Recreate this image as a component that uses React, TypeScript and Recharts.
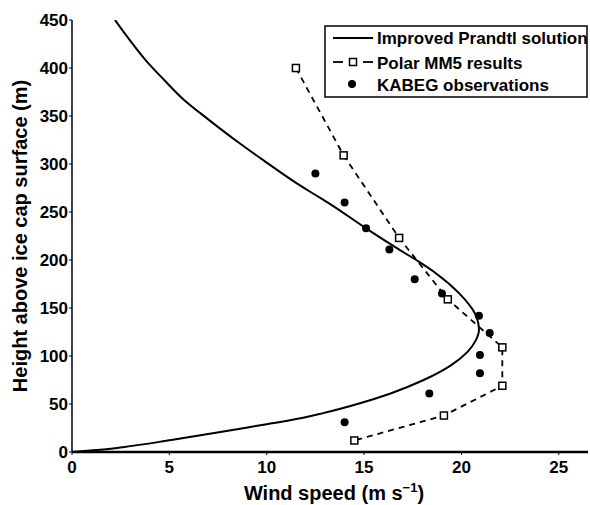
import React from 'react';
import { ComposedChart, Scatter, XAxis, YAxis } from 'recharts';

// wind speed (m/s) vs height (m)
const prandtlSpeed = [0, 1.3, 2.6, 5.1, 7.7, 10.0, 11.2, 12.9, 14.66, 16.36, 18.06, 19.44, 20.3, 20.73, 20.9, 20.7, 19.9, 18.7, 17.75, 16.95, 15.1, 13.2, 12.4, 11.31, 9.82, 8.38, 7.03, 5.74, 4.71, 3.79, 2.97, 2.21];
const prandtlHeight = [0, 2, 5, 12.5, 21, 29, 33, 40.5, 50, 61, 75, 90, 104, 116, 127, 144, 165, 186, 199, 209, 233, 259, 269, 283, 304, 325, 346, 367, 388, 408, 429, 450];

const mm5Speed = [11.5, 13.95, 16.8, 19.3, 22.1, 22.1, 19.1, 14.5];
const mm5Height = [400, 309, 223, 159, 109, 69, 38, 12];

const kabegSpeed = [12.5, 14.0, 15.1, 16.3, 17.6, 19.0, 20.9, 21.45, 20.95, 20.95, 18.35, 14.0];
const kabegHeight = [290, 260, 233, 211, 180, 165, 142, 124, 101, 82, 61, 31];

const xTicks = [0, 5, 10, 15, 20, 25];
const yTicks = [0, 50, 100, 150, 200, 250, 300, 350, 400, 450];

const toPoints = (xs: number[], hs: number[]) => xs.map((x, i) => ({ x, h: hs[i] }));

const prandtl = toPoints(prandtlSpeed, prandtlHeight);
const mm5 = toPoints(mm5Speed, mm5Height);
const kabeg = toPoints(kabegSpeed, kabegHeight);

const FONT = '"Liberation Sans", Arial, sans-serif';

const Square = (props: any) => (
  <rect x={props.cx - 3.5} y={props.cy - 3.5} width={7} height={7} fill="#fff" stroke="#000" strokeWidth={1.5} />
);

const Dot = (props: any) => <circle cx={props.cx} cy={props.cy} r={4} fill="#000" />;

const LegendBox = () => (
  <svg width={265} height={74} style={{ display: 'block' }}>
    <rect x={1} y={1} width={262} height={71} fill="#fff" stroke="#000" strokeWidth={1.5} />
    <g fontFamily={FONT} fontWeight="bold" fontSize={17} fill="#000">
      <line x1={9} x2={49} y1={13} y2={13} stroke="#000" strokeWidth={2} />
      <text x={53} y={19}>Improved Prandtl solution</text>
      <line x1={9} x2={19} y1={37} y2={37} stroke="#000" strokeWidth={1.8} />
      <line x1={39} x2={49} y1={37} y2={37} stroke="#000" strokeWidth={1.8} />
      <rect x={25.5} y={33.5} width={7} height={7} fill="#fff" stroke="#000" strokeWidth={1.5} />
      <text x={53} y={44}>Polar MM5 results</text>
      <circle cx={28} cy={59} r={4} fill="#000" />
      <text x={53} y={66}>KABEG observations</text>
    </g>
  </svg>
);

export default function App() {
  return (
    <div style={{ position: 'absolute', left: 0, top: 0, width: 590, height: 505, background: '#fff' }}>
      <ComposedChart width={590} height={505} margin={{ top: 20, right: 2, bottom: 0, left: 0 }}>
        <XAxis
          type="number"
          dataKey="x"
          domain={[0, 26.5]}
          ticks={xTicks}
          allowDataOverflow
          height={53}
          tickSize={3}
          tickMargin={6}
          axisLine={{ stroke: '#000', strokeWidth: 2.5 }}
          tickLine={{ stroke: '#000' }}
          tick={{ fill: '#000', fontFamily: FONT, fontWeight: 'bold', fontSize: 17 }}
          label={{
            content: () => (
              <text x={334} y={500} textAnchor="middle" fontFamily={FONT} fontWeight="bold" fontSize={20} fill="#000">
                Wind speed (m s<tspan dy={-8} fontSize={13}>−1</tspan><tspan dy={8}>)</tspan>
              </text>
            ),
          }}
        />
        <YAxis
          type="number"
          dataKey="h"
          domain={[0, 450]}
          ticks={yTicks}
          allowDataOverflow
          width={72}
          tickSize={3}
          tickMargin={1}
          axisLine={{ stroke: '#000', strokeWidth: 1.5 }}
          tickLine={{ stroke: '#000' }}
          tick={{ fill: '#000', fontFamily: FONT, fontWeight: 'bold', fontSize: 17 }}
          label={{
            content: () => (
              <text x={27} y={236} transform="rotate(-90 27 236)" textAnchor="middle" fontFamily={FONT} fontWeight="bold" fontSize={20} fill="#000">
                Height above ice cap surface (m)
              </text>
            ),
          }}
        />
        <Scatter
          data={prandtl}
          line={{ stroke: '#000', strokeWidth: 2 }}
          lineJointType="monotoneY"
          shape={() => <g />}
          isAnimationActive={false}
        />
        <Scatter
          data={mm5}
          line={{ stroke: '#000', strokeWidth: 1.8, strokeDasharray: '6 5' }}
          shape={Square}
          isAnimationActive={false}
        />
        <Scatter data={kabeg} shape={Dot} isAnimationActive={false} />
      </ComposedChart>
      <div style={{ position: 'absolute', left: 324, top: 25 }}>
        <LegendBox />
      </div>
    </div>
  );
}
